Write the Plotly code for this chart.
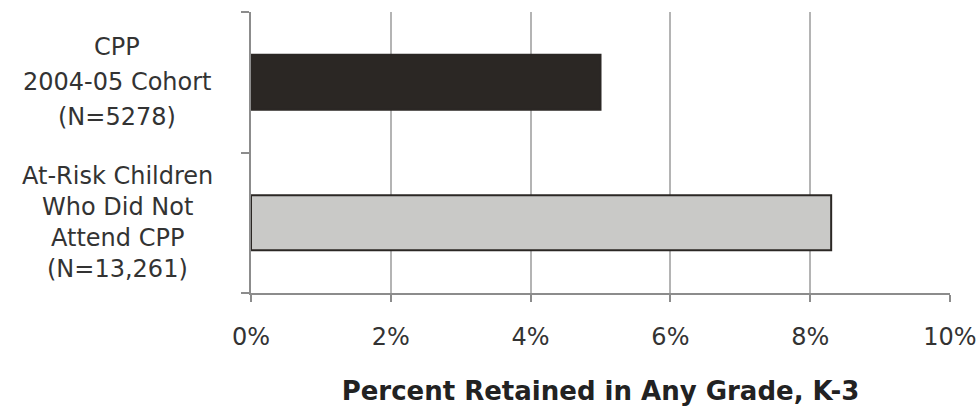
import plotly.graph_objects as go

# Retention rates by group
groups = ["CPP 2004-05 Cohort", "At-Risk Children Who Did Not Attend CPP"]
label_lines = [
    ["CPP", "2004-05 Cohort", "(N=5278)"],
    ["At-Risk Children", "Who Did Not", "Attend CPP", "(N=13,261)"],
]
line_spacing = [35, 31]
retained_pct = [5.0, 8.3]
bar_colors = ["#2b2724", "#c9c9c7"]

x_ticks = [0, 2, 4, 6, 8, 10]
x_tick_labels = ["0%", "2%", "4%", "6%", "8%", "10%"]

FONT = "DejaVu Sans"
GRID = "#b4b4b4"
AXIS = "#8c8c8c"

fig = go.Figure(
    go.Bar(
        x=retained_pct,
        y=groups,
        orientation="h",
        marker=dict(color=bar_colors, line=dict(color="#2b2724", width=2)),
        width=0.39,
        hoverinfo="x+y",
    )
)

# Multi-line category labels to the left of the plot
annotations = []
for g, lines, sp in zip(groups, label_lines, line_spacing):
    n = len(lines)
    for i, t in enumerate(lines):
        offset = ((n - 1) / 2 - i) * sp
        annotations.append(dict(
            text=t, x=0, xref="paper", y=g, yref="y",
            xanchor="center", yanchor="middle",
            xshift=-134, yshift=offset, showarrow=False,
            font=dict(family=FONT, size=24, color="#333333"),
        ))

fig.update_layout(
    width=979, height=409,
    margin=dict(l=251, r=29, t=12, b=116, autoexpand=False),
    paper_bgcolor="white", plot_bgcolor="white",
    showlegend=False,
    annotations=annotations,
    xaxis=dict(
        range=[0, 10], tickvals=x_ticks, ticktext=x_tick_labels,
        automargin=False,
        showgrid=True, gridcolor=GRID, gridwidth=2,
        zeroline=False,
        showline=True, linecolor=AXIS, linewidth=2,
        ticks="outside", ticklen=7, tickcolor=AXIS, tickwidth=2,
        ticklabelstandoff=14,
        tickfont=dict(family=FONT, size=24, color="#333333"),
        title=dict(text="<b>Percent Retained in Any Grade, K-3</b>",
                   font=dict(family=FONT, size=26, color="#222222"),
                   standoff=32),
    ),
    yaxis=dict(
        categoryorder="array", categoryarray=groups[::-1],
        range=[-0.5, 1.5],
        automargin=False,
        showticklabels=False,
        showgrid=False, zeroline=False,
        showline=True, linecolor=AXIS, linewidth=2,
        ticks="outside", tickson="boundaries", ticklen=8,
        tickcolor=AXIS, tickwidth=2,
    ),
)

fig.write_html("out.html")
